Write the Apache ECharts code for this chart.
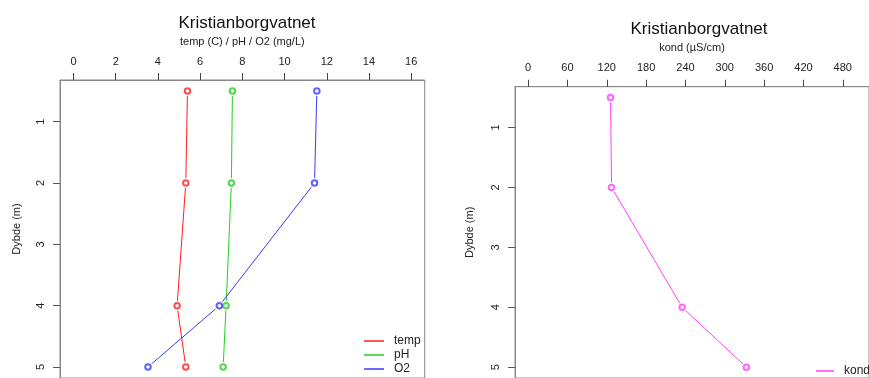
<!DOCTYPE html>
<html>
<head>
<meta charset="utf-8">
<script src="https://cdn.jsdelivr.net/npm/echarts@6/dist/echarts.min.js"></script>
<style>
  html, body { margin: 0; padding: 0; background: #fff; }
  #chart { width: 869px; height: 378px; }
</style>
</head>
<body>
<div id="chart"></div>
<script>
// Depth profile, Kristianborgvatnet
const depths = [0.5, 2, 4, 5];
const temp = [5.40, 5.32, 4.91, 5.32];
const pH = [7.53, 7.48, 7.23, 7.09];
const O2 = [11.53, 11.42, 6.91, 3.53];
const kond = [125.7, 127.3, 235, 333];

const depthTicks = [1, 2, 3, 4, 5];
const leftTicks = [0, 2, 4, 6, 8, 10, 12, 14, 16];
const rightTicks = [0, 60, 120, 180, 240, 300, 360, 420, 480];

const FONT = "'Liberation Sans', Arial, sans-serif";
const COLORS = { temp: '#ff2020', pH: '#22d022', O2: '#3a3aff', kond: '#ff40ff' };

function pairs(vals) { return vals.map((v, i) => [v, depths[i]]); }

function xAxisDef(gridIndex, min, max, ticks, name) {
  return {
    gridIndex, type: 'value', position: 'top', min, max,
    name, nameLocation: 'middle', nameGap: 33,
    nameTextStyle: { fontFamily: FONT, fontSize: 11, color: '#222' },
    axisLine: { show: true, onZero: false, lineStyle: { color: '#888', width: 1 } },
    axisTick: { show: true, customValues: ticks, length: 7, lineStyle: { color: '#444' } },
    axisLabel: { customValues: ticks, margin: 13, fontFamily: FONT, fontSize: 11, color: '#222' },
    splitLine: { show: false }
  };
}
function yAxisDef(gridIndex, nameGap) {
  return {
    gridIndex, type: 'value', position: 'left', inverse: true, min: 0.32, max: 5.18,
    name: 'Dybde (m)', nameLocation: 'middle', nameRotate: 90, nameGap,
    nameTextStyle: { fontFamily: FONT, fontSize: 11, color: '#222' },
    axisLine: { show: true, onZero: false, lineStyle: { color: '#888', width: 1 } },
    axisTick: { show: true, customValues: depthTicks, length: 7, lineStyle: { color: '#555', width: 1 } },
    axisLabel: { customValues: depthTicks, rotate: 90, margin: 14, fontFamily: FONT, fontSize: 11, color: '#222' },
    splitLine: { show: false }
  };
}

// Each profile: a line with small white masks at the points (gap like type="b"),
// and open circles drawn on top.
function profile(name, vals, xi) {
  const c = COLORS[name];
  return [
    {
      name, type: 'line', xAxisIndex: xi, yAxisIndex: xi, data: pairs(vals),
      symbol: 'circle', symbolSize: 10, showSymbol: true,
      itemStyle: { color: '#ffffff' },
      lineStyle: { color: c, width: 1 }, z: 2
    },
    {
      name: name + ' pkt', type: 'scatter', xAxisIndex: xi, yAxisIndex: xi, data: pairs(vals),
      symbol: 'emptyCircle', symbolSize: 5.5,
      itemStyle: { color: c, borderWidth: 1 }, z: 3
    }
  ];
}

// One legend block per entry so nothing wraps near the bottom edge.
function legendEntry(name, left, centerY, width) {
  return {
    orient: 'vertical', left, top: centerY - 6, padding: 0, icon: 'rect',
    itemWidth: width, itemHeight: 1.5, selectedMode: false,
    textStyle: { fontFamily: FONT, fontSize: 12, color: '#222', padding: [0, 0, 0, 5] },
    data: [{ name, itemStyle: { color: COLORS[name] } }]
  };
}

const chart = echarts.init(document.getElementById('chart'), null, { renderer: 'canvas' });
chart.setOption({
  animation: false,
  backgroundColor: '#ffffff',
  title: [
    { text: 'Kristianborgvatnet', left: 242, top: 10, textAlign: 'center',
      textStyle: { fontFamily: FONT, fontSize: 17, fontWeight: 'normal', color: '#111' } },
    { text: 'Kristianborgvatnet', left: 694, top: 16, textAlign: 'center',
      textStyle: { fontFamily: FONT, fontSize: 17, fontWeight: 'normal', color: '#111' } }
  ],
  grid: [
    { left: 60, top: 80, right: 444.3, bottom: -2.2, show: true, borderColor: '#888', borderWidth: 1, backgroundColor: 'transparent' },
    { left: 515, top: 86.7, right: -4.5, bottom: -4, show: true, borderColor: '#888', borderWidth: 1, backgroundColor: 'transparent' }
  ],
  xAxis: [
    xAxisDef(0, -0.64, 16.64, leftTicks, 'temp (C) / pH / O2 (mg/L)'),
    xAxisDef(1, -20, 520, rightTicks, 'kond (\u00b5S/cm)')
  ],
  yAxis: [yAxisDef(0, 38), yAxisDef(1, 40)],
  legend: [
    legendEntry('temp', 364, 341, 20),
    legendEntry('pH', 364, 355, 20),
    legendEntry('O2', 364, 369, 20),
    legendEntry('kond', 816, 371, 18)
  ],
  series: [
    ...profile('temp', temp, 0),
    ...profile('pH', pH, 0),
    ...profile('O2', O2, 0),
    ...profile('kond', kond, 1)
  ]
});
</script>
</body>
</html>
